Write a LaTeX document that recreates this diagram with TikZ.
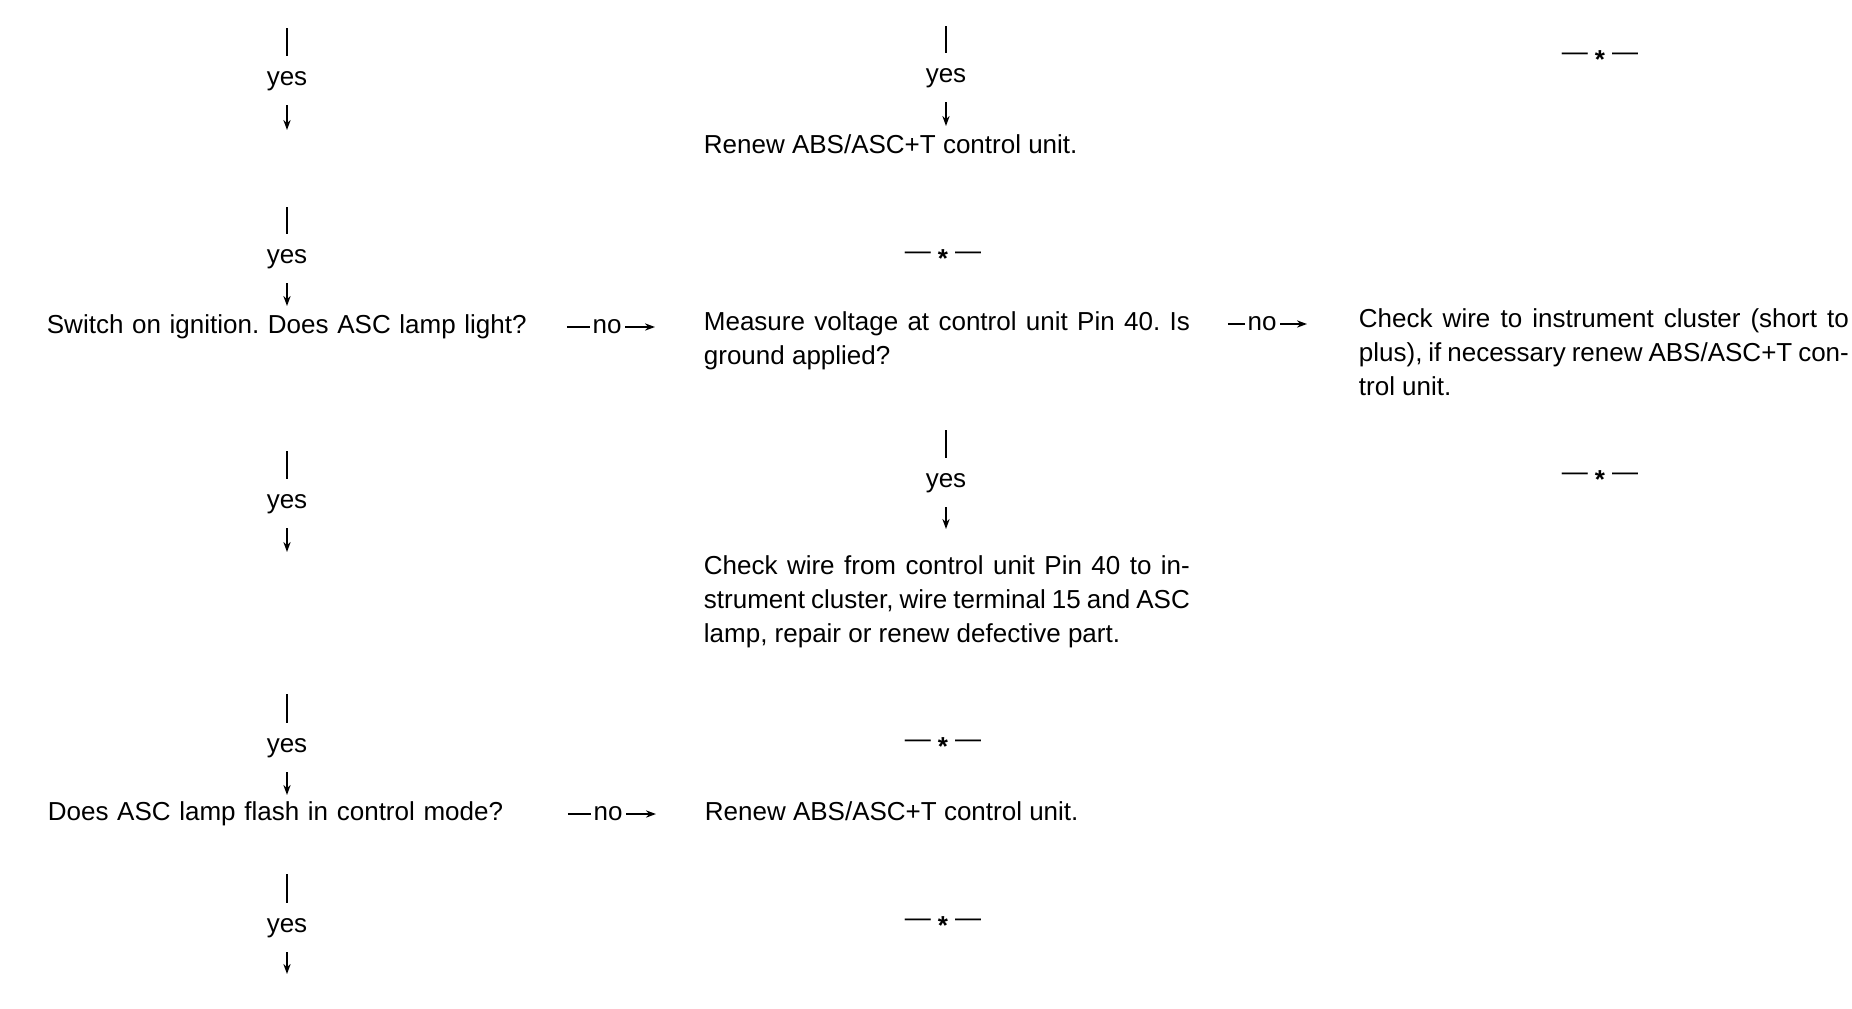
\documentclass[tikz,border=0pt]{standalone}
\usepackage{fontspec}
\setmainfont{Liberation Sans}
\usetikzlibrary{arrows.meta}
\frenchspacing
\spaceskip=3.6pt plus 2.1pt minus 1.6pt
\hyphenpenalty=10000

\begin{document}
\begin{tikzpicture}[x=0.5pt, y=-0.5pt, line width=0.9pt,
    every node/.style={font=\fontsize{13}{17}\selectfont, inner sep=0pt},
    yeslabel/.style={anchor=base, inner ysep=7pt},
    down/.style={-{Stealth[length=5pt, width=3.6pt]}},
    query/.style={anchor=base west, text width=250pt, align=left},
    block/.style={anchor=base west, text width=243pt, align=justify},
    noarrow/.style={-{Stealth[length=5pt, width=3.6pt]}, shorten <=9.5pt, shorten >=24pt},
    nolabel/.style={fill=white, inner xsep=1.5pt, pos=0.382},
    sepmark/.style={anchor=base}]
  \useasboundingbox (0,0) rectangle (1852,1008);

  % left column
  \node[query] (q1) at (46,333) {Switch on ignition. Does ASC lamp light?};
  \node[query] (q2) at (47,820) {Does ASC lamp flash in control mode?};

  \coordinate (ta) at (287,28);  \node[yeslabel] (ya) at (287,85)  {yes}; \coordinate (ba) at (287,130);
  \coordinate (tb) at (287,207); \node[yeslabel] (yb) at (287,263) {yes}; \coordinate (bb) at (287,306);
  \coordinate (tc) at (287,451); \node[yeslabel] (yc) at (287,508) {yes}; \coordinate (bc) at (287,552);
  \coordinate (td) at (287,694); \node[yeslabel] (yd) at (287,752) {yes}; \coordinate (bd) at (287,795);
  \coordinate (te) at (287,874); \node[yeslabel] (ye) at (287,932) {yes}; \coordinate (be) at (287,974);

  % middle column
  \node[block] (r1) at (703,153) {Renew ABS/ASC+T control unit.};
  \node[block] (m1) at (703,330) {Measure voltage at control unit Pin 40. Is\linebreak
    ground applied?};
  \node[block] (k1) at (703,574) {Check wire from control unit Pin 40 to in-\linebreak
    strument cluster, wire terminal 15 and ASC\linebreak
    lamp, repair or renew defective part.};
  \node[block] (r2) at (704,820) {Renew ABS/ASC+T control unit.};

  \coordinate (tf) at (946,26);  \node[yeslabel] (yf) at (946,82)  {yes}; \coordinate (bf) at (946,126);
  \coordinate (tg) at (946,430); \node[yeslabel] (yg) at (946,487) {yes}; \coordinate (bg) at (946,529);

  \node[sepmark] (s1) at (943,259) {—\hspace{3.5pt}\raisebox{-4pt}{\bfseries *}\hspace{3.5pt}—};
  \node[sepmark] (s2) at (943,747) {—\hspace{3.5pt}\raisebox{-4pt}{\bfseries *}\hspace{3.5pt}—};
  \node[sepmark] (s3) at (943,926) {—\hspace{3.5pt}\raisebox{-4pt}{\bfseries *}\hspace{3.5pt}—};

  % right column
  \node[block, text width=245pt] (c1) at (1358,327) {Check wire to instrument cluster (short to\linebreak
    plus), if necessary renew ABS/ASC+T con-\linebreak
    trol unit.};

  \node[sepmark] (s4) at (1600,60)  {—\hspace{3.5pt}\raisebox{-4pt}{\bfseries *}\hspace{3.5pt}—};
  \node[sepmark] (s5) at (1600,480) {—\hspace{3.5pt}\raisebox{-4pt}{\bfseries *}\hspace{3.5pt}—};

  % yes flows
  \draw (ta) -- (ya); \draw[down] (ya) -- (ba);
  \draw (tb) -- (yb); \draw[down] (yb) -- (bb);
  \draw (tc) -- (yc); \draw[down] (yc) -- (bc);
  \draw (td) -- (yd); \draw[down] (yd) -- (bd);
  \draw (te) -- (ye); \draw[down] (ye) -- (be);
  \draw (tf) -- (yf); \draw[down] (yf) -- (bf);
  \draw (tg) -- (yg); \draw[down] (yg) -- (bg);

  % no flows
  \draw[noarrow] ([yshift=3pt]q1.base east) -- node[nolabel] {no} ([yshift=3pt]q1.base east -| m1.west);
  \draw[noarrow, shorten <=18.5pt, shorten >=25.5pt] ([yshift=3pt]m1.base east) -- node[nolabel, pos=0.426] {no} ([yshift=3pt]m1.base east -| c1.west);
  \draw[noarrow] ([yshift=3pt]q2.base east) -- node[nolabel] {no} ([yshift=3pt]q2.base east -| r2.west);
\end{tikzpicture}
\end{document}
